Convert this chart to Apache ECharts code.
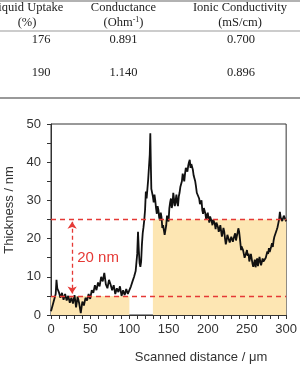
<!DOCTYPE html>
<html>
<head>
<meta charset="utf-8">
<script src="https://cdn.jsdelivr.net/npm/echarts@6/dist/echarts.min.js"></script>
<style>
  html, body { margin: 0; padding: 0; background: #fff; }
  #chart { width: 300px; height: 366px; }
</style>
</head>
<body>
<div id="chart"></div>
<script>
// table (cropped at the top of the figure)
var tableHeaders = ["Liquid Uptake", "Conductance", "Ionic Conductivity"];
var tableUnits = ["(%)", "(Ohm{sup|-1})", "(mS/cm)"];
var tableRows = [
  ["176", "0.891", "0.700"],
  ["190", "1.140", "0.896"]
];

// AFM height profile
var distanceUm = [
  0, 2, 4, 6, 7, 8, 10, 12, 14, 16, 18, 20, 22, 24, 26, 28, 30, 32, 34, 36, 38, 40,
  42, 44, 46, 48, 50, 52, 54, 56, 58, 60, 62, 64, 66, 68, 70, 72, 74, 76, 78, 80,
  82, 84, 86, 88, 90, 92, 94, 96, 98, 100, 102, 104, 106, 108, 110, 111, 112, 113,
  114, 115, 116, 117, 118, 119, 120, 121, 122, 123, 124, 125, 126, 126.7, 127.5, 128,
  130, 131, 133, 135, 137, 139, 141, 143, 145, 147, 149, 151, 153, 155, 157, 159,
  161, 163, 165, 167, 169, 171, 173, 175, 177, 179, 181, 183, 185, 187, 189, 191,
  193, 195, 197, 199, 201, 203, 205, 207, 209, 211, 213, 215, 217, 219, 221, 223,
  225, 227, 229, 231, 233, 235, 237, 239, 241, 242.5, 244, 246, 248, 250, 252, 254,
  256, 258, 260, 262, 264, 266, 268, 270, 272, 274, 276, 278, 280, 282, 284, 286,
  288, 290, 292, 293, 295, 297, 298, 300
];
var thicknessNm = [
  1.0, 2.5, 2.0, 5.5, 9.2, 7.0, 6.0, 4.5, 5.8, 4.0, 5.5, 3.8, 5.0, 3.2, 4.5, 3.0, 5.2, 2.0, 4.8, 3.0, 0.5, 3.5,
  2.5, 4.5, 3.8, 5.5, 4.2, 6.5, 5.8, 7.8, 6.5, 8.5, 7.5, 10.0, 8.8, 11.0, 8.0, 7.0, 9.2, 8.0, 6.5, 7.8,
  5.5, 7.0, 6.0, 7.5, 5.0, 6.5, 5.2, 6.8, 5.5, 6.5, 7.5, 8.8, 10.0, 11.5, 16.0, 21.8, 17.0, 13.6,
  12.6, 14.0, 18.5, 21.4, 23.0, 24.9, 27.5, 32.3, 30.5, 33.0, 35.5, 38.8, 42.0, 47.6, 38.0, 33.0,
  31.0, 29.5, 30.0, 26.5, 27.5, 24.8, 25.6, 23.5, 21.0, 23.5, 25.3, 28.0, 30.5, 29.0, 31.5, 30.0,
  29.4, 31.0, 33.5, 35.0, 36.5, 37.0, 38.5, 39.0, 40.6, 39.5, 38.0, 36.0, 33.6, 32.5, 30.5, 29.5,
  27.5, 28.0, 26.5, 26.0, 25.2, 25.8, 24.5, 25.0, 23.8, 24.2, 23.0, 22.5, 23.2, 21.5, 21.8, 18.5,
  21.0, 20.5, 19.5, 21.0, 20.0, 21.4, 20.5, 22.7, 20.0, 17.0, 18.5, 16.0, 15.3, 17.0, 16.1, 14.5,
  15.5, 12.6, 14.5, 13.9, 12.8, 15.2, 13.0, 14.8, 13.5, 15.0, 16.6, 17.5, 17.0, 18.8, 19.5, 21.0,
  22.3, 24.0, 27.0, 25.5, 24.6, 26.0, 25.8, 24.5
];
// extra readings of the jitter between the points above
var distanceFineUm = [
  132, 134, 136, 138, 140, 142, 144, 146, 148, 150, 152, 154, 156, 158, 160, 162,
  164, 166, 168, 170, 172, 174, 176, 178, 180, 182, 184, 186, 188, 190, 192, 194,
  196, 198, 200, 202, 204, 206, 208, 210, 212, 214, 216, 218, 220, 222, 224, 226,
  228, 230, 232, 234, 236, 238, 240, 243, 245, 247, 249, 251, 253, 255, 257, 259,
  261, 263, 265, 267, 269, 271, 273, 275, 277, 279, 281, 283, 285, 287, 289, 291,
  294, 296, 299
];
var thicknessFineNm = [
  31.5, 28.0, 28.5, 25.5, 26.8, 22.8, 24.0, 20.5, 26.0, 24.5, 29.5, 28.0, 32.0, 28.5, 31.5, 28.5,
  32.0, 34.0, 37.0, 35.0, 38.5, 37.5, 40.0, 38.5, 39.5, 36.5, 35.0, 32.0, 32.0, 29.0, 30.0, 26.5,
  27.5, 25.0, 26.8, 24.2, 25.5, 23.5, 25.0, 22.5, 24.5, 21.8, 23.5, 20.5, 22.8, 20.0, 19.5, 21.5,
  19.0, 20.5, 19.2, 20.8, 19.5, 21.5, 21.8, 18.0, 17.0, 15.0, 16.2, 15.5, 14.0, 16.0, 13.5, 13.5,
  12.5, 14.8, 13.2, 14.0, 12.8, 14.0, 14.5, 15.5, 16.0, 16.5, 18.0, 17.8, 20.5, 20.5, 23.0, 25.0,
  26.0, 25.0, 26.2
];

// shaded bands [x0, x1, top] and reference levels
var bands = [[0, 100, 5], [130, 300, 25]];
var refLevels = [25, 5];
var arrowAt = 27;
var arrowLabel = "20 nm";

var myChart = echarts.init(document.getElementById("chart"));

var profile = [];
for (var i = 0; i < distanceUm.length; i++) {
  profile.push([distanceUm[i], thicknessNm[i]]);
}
for (var j = 0; j < distanceFineUm.length; j++) {
  profile.push([distanceFineUm[j], thicknessFineNm[j]]);
}
profile.sort(function (a, b) { return a[0] - b[0]; });

var bandData = [];
for (var b = 0; b < bands.length; b++) {
  bandData.push([{ coord: [bands[b][0], 0] }, { coord: [bands[b][1], bands[b][2]] }]);
}

var levelLines = [];
for (var r = 0; r < refLevels.length; r++) {
  levelLines.push({ yAxis: refLevels[r] });
}

var serif = "'Liberation Serif', 'Times New Roman', serif";
var sans = "'Liberation Sans', Arial, sans-serif";
var colX = [27, 123.5, 240];
var numX = [41, 123.5, 241];

var graphics = [
  { type: "line", shape: { x1: 0, y1: 1, x2: 300, y2: 1 }, style: { stroke: "#999", lineWidth: 1.5 } },
  { type: "line", shape: { x1: 0, y1: 31, x2: 300, y2: 31 }, style: { stroke: "#999", lineWidth: 1 } },
  { type: "line", shape: { x1: 0, y1: 98, x2: 300, y2: 98 }, style: { stroke: "#999", lineWidth: 2 } }
];
for (var c = 0; c < 3; c++) {
  graphics.push({
    type: "text", x: colX[c], y: 7.5,
    style: { text: tableHeaders[c], font: "12.5px " + serif, fill: "#222", align: "center", verticalAlign: "middle" }
  });
  graphics.push({
    type: "text", x: colX[c], y: 23,
    style: {
      text: tableUnits[c], font: "12.5px " + serif, fill: "#222", align: "center", verticalAlign: "middle",
      rich: { sup: { fontSize: 8, verticalAlign: "top", padding: [0, 0, 6, 0], fontFamily: serif } }
    }
  });
  for (var k = 0; k < tableRows.length; k++) {
    graphics.push({
      type: "text", x: numX[c], y: 40 + k * 32.5,
      style: { text: tableRows[k][c], font: "12.5px " + serif, fill: "#222", align: "center", verticalAlign: "middle" }
    });
  }
}
graphics.push({
  type: "text", x: 9, y: 210, rotation: Math.PI / 2,
  style: { text: "Thickness / nm", font: "13px " + sans, fill: "#333", align: "center", verticalAlign: "middle" }
});
graphics.push({
  type: "text", x: 201, y: 357,
  style: { text: "Scanned distance / \u03bcm", font: "13px " + sans, fill: "#333", align: "center", verticalAlign: "middle" }
});

var option = {
  animation: false,
  backgroundColor: "#fff",
  grid: {
    left: 51, right: 11, top: 124, bottom: 51,
    show: true, borderColor: "#333", borderWidth: 1
  },
  xAxis: {
    type: "value", min: 0, max: 300, interval: 50,
    axisLine: { show: true, lineStyle: { color: "#333", width: 1 } },
    axisTick: { show: true, inside: false, length: 4, lineStyle: { color: "#333" } },
    minorTick: { show: true, splitNumber: 5, length: 4, lineStyle: { color: "#333" } },
    axisLabel: { color: "#333", fontSize: 13, fontFamily: sans, margin: 8 },
    splitLine: { show: false }
  },
  yAxis: {
    type: "value", min: 0, max: 50, interval: 10,
    axisLine: { show: true, lineStyle: { color: "#333", width: 1 } },
    axisTick: { show: true, inside: false, length: 4, lineStyle: { color: "#333" } },
    minorTick: { show: true, splitNumber: 2, length: 4, lineStyle: { color: "#333" } },
    axisLabel: { color: "#333", fontSize: 13, fontFamily: sans, margin: 10 },
    splitLine: { show: false }
  },
  graphic: graphics,
  series: [
    {
      type: "line", data: [], z: 1, silent: true,
      markArea: { silent: true, itemStyle: { color: "#fde6b3" }, data: bandData }
    },
    {
      type: "line", data: [], z: 2, silent: true,
      markLine: {
        silent: true, symbol: "none",
        label: { show: false },
        lineStyle: { color: "#e53935", type: [5, 4], width: 1.3 },
        data: levelLines
      }
    },
    {
      type: "line", data: profile, z: 3,
      showSymbol: false, symbol: "none",
      lineStyle: { color: "#111", width: 1.8 }
    },
    {
      type: "line", data: [], z: 4, silent: true,
      markLine: {
        silent: true, symbol: ["arrow", "arrow"], symbolSize: 7,
        label: { show: false },
        lineStyle: { color: "#e53935", type: [4, 3], width: 1.3 },
        data: [[{ coord: [arrowAt, refLevels[0] - 0.6] }, { coord: [arrowAt, refLevels[1] + 0.6] }]]
      },
      markPoint: {
        silent: true, symbol: "circle", symbolSize: 0,
        label: { show: true, formatter: arrowLabel, color: "#e53935", fontSize: 15, fontFamily: sans },
        data: [{ coord: [60, 15] }]
      }
    }
  ]
};

myChart.setOption(option);
</script>
</body>
</html>
